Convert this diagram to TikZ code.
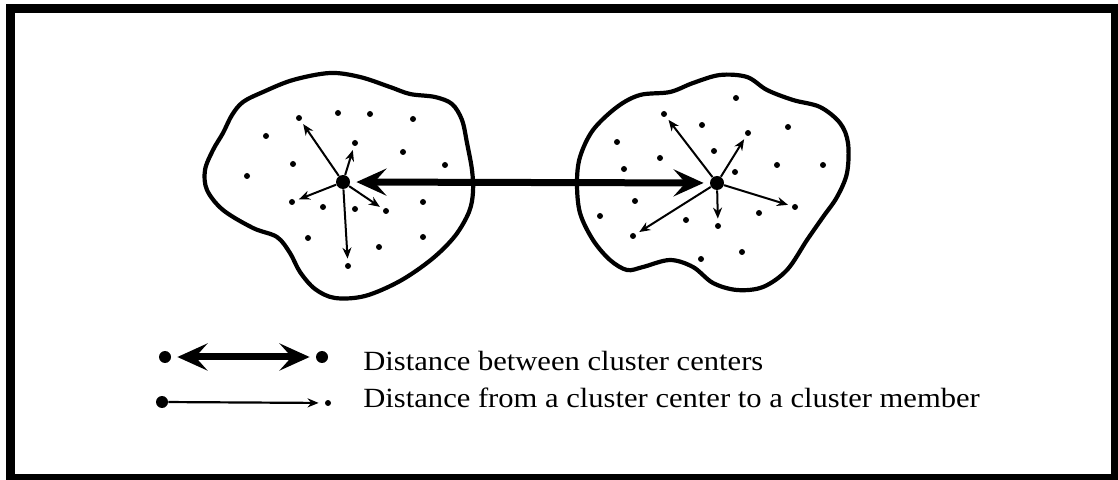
\documentclass[tikz,border=0pt]{standalone}
\usepackage{fontspec}
\newfontfamily\legendfont[FakeStretch=1.1]{Liberation Serif}
\usetikzlibrary{arrows.meta,positioning}

\begin{document}
\begin{tikzpicture}[x=0.5pt, y={(0pt,-0.5pt)},
  blob/.style={line width=2.1pt, line join=round},
  memberdot/.style={circle, fill=black, inner sep=0pt, minimum size=3pt},
  hubdot/.style={circle, fill=black, inner sep=0pt, minimum size=7pt},
  reach/.style={line width=1pt, -{Stealth[length=5.5pt, width=4.5pt]}, shorten >=2pt},
  gap/.style={line width=3.5pt, {Stealth[length=15pt, width=13.5pt, inset=6pt]}-{Stealth[length=15pt, width=13.5pt, inset=6pt]}},
  legend/.style={anchor=base west, inner sep=0pt, font=\legendfont\fontsize{13.9}{16}\selectfont}]
  \useasboundingbox (0,0) rectangle (1118,480);
  \clip (0,0) rectangle (1118,480);
  \draw[line width=4.5pt] (10,9) rectangle (1115,478);

  % cluster outlines
  \draw[blob] plot[smooth cycle, tension=0.55] coordinates {(330,73) (360,77) (390,87) (410,94) (435,97) (452,104) (462,120) (467,143) (472,170) (473,192) (469,212) (455,236) (432,259) (400,281) (365,296) (335,298) (315,289) (300,272) (290,253) (277,237) (253,228) (223,210) (207,190) (205,170) (213,150) (223,133) (232,115) (243,102) (263,92) (293,80)};
  \draw[blob] plot[smooth cycle, tension=0.55] coordinates {(720,75) (747,77) (767,90) (793,100) (820,107) (840,123) (848,143) (847,173) (837,197) (823,217) (807,240) (787,270) (763,287) (737,290) (713,283) (693,267) (670,260) (643,267) (627,270) (610,260) (593,240) (580,213) (577,183) (580,157) (593,130) (617,107) (640,95) (670,92) (693,83)};

  % members
  \foreach \x/\y/\n in {299/118/l1, 338/113/l2, 370/114/l3, 413/119/l4, 266/136/l5, 355/143/l6, 403/152/l7, 293/164/l8, 445/165/l9, 247/176/l10, 292/202/l11, 323/207/l12, 355/209/l13, 386/211/l14, 423/202/l15, 308/238/l16, 379/247/l17, 423/237/l18, 348/266/l19}
    \node[memberdot] (\n) at (\x,\y) {};
  \foreach \x/\y/\n in {736/98/r1, 664/114/r2, 702/125/r3, 788/127/r4, 748/133/r5, 617/142/r6, 714/151/r7, 660/158/r8, 777/165/r9, 823/165/r10, 624/169/r11, 735/172/r12, 635/201/r13, 795/207/r14, 759/213/r15, 600/216/r16, 686/220/r17, 718/226/r18, 633/236/r19, 742/252/r20, 701/259/r21}
    \node[memberdot] (\n) at (\x,\y) {};

  % centers
  \node[hubdot] (hubL) at (343,182) {};
  \node[hubdot] (hubR) at (717,183) {};
  \foreach \n in {l1, l6, l11, l14, l19}
    \draw[reach] (hubL) -- (\n);
  \foreach \n in {r2, r5, r14, r18, r19}
    \draw[reach] (hubR) -- (\n);
  \draw[gap, shorten <=3pt, shorten >=3pt] (hubL) -- (hubR);

  % legend
  \node[hubdot, minimum size=6pt] (keyA) at (165,357) {};
  \node[hubdot, minimum size=6pt] (keyB) at (322,357) {};
  \draw[gap, shorten <=3pt, shorten >=3pt] (keyA) -- (keyB);
  \node[hubdot, minimum size=6pt] (keyC) at (162,402) {};
  \node[memberdot] (keyD) at (328,403) {};
  \draw[reach, line width=1.1pt, shorten >=3pt] (keyC) -- (keyD);
  \node[legend] (labgap) at (363,371) {Distance between cluster centers};
  \node[legend] (labreach) at (363,408) {Distance from a cluster center to a cluster member};
\end{tikzpicture}
\end{document}
